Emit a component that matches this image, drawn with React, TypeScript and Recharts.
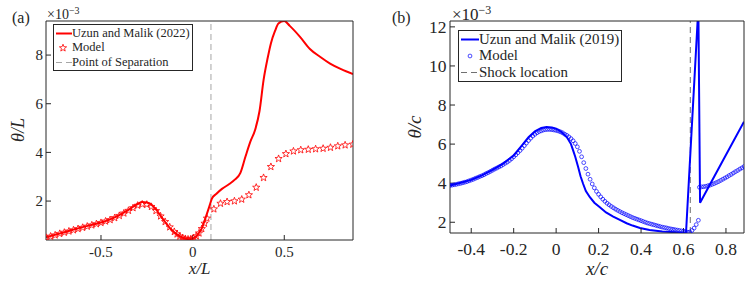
import React from "react";
import { ComposedChart, Line, Scatter, XAxis, YAxis, ReferenceLine } from "recharts";

// panel (a): theta/L (x 1e-3) vs x/L
const uzunAX = [-0.8, -0.7, -0.6, -0.5, -0.45, -0.4, -0.35, -0.3, -0.275, -0.25, -0.225, -0.2, -0.175, -0.15, -0.125, -0.1, -0.075, -0.05, -0.025, 0, 0.025, 0.05, 0.07, 0.09, 0.105, 0.13, 0.16, 0.2, 0.23, 0.26, 0.288, 0.315, 0.342, 0.365, 0.387, 0.41, 0.427, 0.45, 0.468, 0.5, 0.53, 0.586, 0.64, 0.695, 0.75, 0.81, 0.875];
const uzunAY = [0.51, 0.72, 0.93, 1.12, 1.25, 1.42, 1.64, 1.88, 1.96, 1.94, 1.85, 1.66, 1.4, 1.14, 0.9, 0.72, 0.58, 0.48, 0.43, 0.46, 0.6, 0.88, 1.3, 1.75, 2.1, 2.3, 2.5, 2.7, 2.88, 3.15, 3.82, 4.44, 4.95, 5.7, 6.97, 7.9, 8.48, 9.0, 9.3, 9.4, 9.2, 8.75, 8.25, 7.93, 7.65, 7.42, 7.22];

const modelAX = [-0.8, -0.775, -0.75, -0.725, -0.7, -0.675, -0.65, -0.625, -0.6, -0.575, -0.55, -0.525, -0.5, -0.475, -0.45, -0.425, -0.4, -0.375, -0.35, -0.325, -0.3, -0.275, -0.25, -0.225, -0.2, -0.175, -0.15, -0.125, -0.1, -0.085, -0.07, -0.055, -0.04, -0.025, -0.01, 0.005, 0.02, 0.035, 0.05, 0.065, 0.078, 0.116, 0.152, 0.188, 0.228, 0.268, 0.307, 0.347, 0.387, 0.427, 0.469, 0.509, 0.55, 0.59, 0.631, 0.671, 0.712, 0.752, 0.792, 0.832, 0.874];
const modelAY = [0.5, 0.55, 0.6, 0.66, 0.71, 0.76, 0.81, 0.86, 0.91, 0.96, 1.01, 1.06, 1.11, 1.17, 1.23, 1.31, 1.4, 1.5, 1.61, 1.72, 1.82, 1.87, 1.86, 1.77, 1.6, 1.38, 1.15, 0.93, 0.74, 0.64, 0.55, 0.49, 0.45, 0.43, 0.44, 0.48, 0.56, 0.68, 0.86, 1.08, 1.29, 1.67, 1.9, 1.97, 2.0, 2.07, 2.25, 2.56, 2.96, 3.41, 3.74, 3.94, 4.05, 4.1, 4.12, 4.14, 4.16, 4.2, 4.26, 4.3, 4.33];

// panel (b): theta/c (x 1e-3) vs x/c
const uzunBX = [-0.5, -0.45, -0.4, -0.35, -0.3, -0.25, -0.2, -0.16, -0.13, -0.1, -0.07, -0.045, -0.02, 0, 0.025, 0.05, 0.07, 0.08, 0.09, 0.104, 0.115, 0.127, 0.14, 0.159, 0.18, 0.206, 0.235, 0.269, 0.3, 0.332, 0.36, 0.395, 0.44, 0.5, 0.56, 0.612, 0.67, 0.678, 0.78, 0.885];
const uzunBY = [3.88, 4.02, 4.17, 4.4, 4.68, 5.0, 5.42, 5.95, 6.35, 6.65, 6.82, 6.87, 6.85, 6.79, 6.62, 6.36, 6.0, 5.68, 5.35, 4.82, 4.35, 3.97, 3.6, 3.28, 3.0, 2.77, 2.5, 2.29, 2.12, 1.95, 1.83, 1.71, 1.6, 1.53, 1.49, 1.48, 13.0, 3.0, 5.05, 7.15];

const modelBX = [
  -0.5, -0.49, -0.48, -0.47, -0.46, -0.45, -0.44, -0.43, -0.42, -0.41,
  -0.4, -0.39, -0.38, -0.37, -0.36, -0.35, -0.34, -0.33, -0.32, -0.31,
  -0.3, -0.29, -0.28, -0.27, -0.26, -0.25, -0.24, -0.23, -0.22, -0.21,
  -0.2, -0.19, -0.18, -0.17, -0.16, -0.15, -0.14, -0.13, -0.12, -0.11,
  -0.1, -0.09, -0.08, -0.07, -0.06, -0.05, -0.04, -0.03, -0.02, -0.01,
  0, 0.01, 0.02, 0.03, 0.04, 0.05, 0.06, 0.07, 0.08, 0.09,
  0.1, 0.11, 0.12, 0.13, 0.14, 0.15, 0.16, 0.17, 0.18, 0.19,
  0.2, 0.21, 0.22, 0.23, 0.24, 0.25, 0.26, 0.27, 0.28, 0.29,
  0.3, 0.31, 0.32, 0.33, 0.34, 0.35, 0.36, 0.37, 0.38, 0.39,
  0.4, 0.41, 0.42, 0.43, 0.44, 0.45, 0.46, 0.47, 0.48, 0.49,
  0.5, 0.51, 0.52, 0.53, 0.54, 0.55, 0.56, 0.57, 0.58, 0.59,
  0.6, 0.61, 0.62, 0.63, 0.64, 0.65, 0.66, 0.67,
  0.675, 0.685, 0.695, 0.705, 0.715, 0.725, 0.735, 0.745, 0.755, 0.765, 0.775,
  0.785, 0.795, 0.805, 0.815, 0.825, 0.835, 0.845, 0.855, 0.865, 0.875, 0.885,
];
const modelBY = [
  3.88, 3.9, 3.92, 3.94, 3.97, 3.99, 4.02, 4.05, 4.08, 4.12,
  4.16, 4.2, 4.25, 4.29, 4.34, 4.38, 4.43, 4.49, 4.54, 4.6,
  4.66, 4.72, 4.77, 4.83, 4.88, 4.95, 5.02, 5.08, 5.16, 5.25,
  5.35, 5.45, 5.56, 5.67, 5.79, 5.92, 6.05, 6.18, 6.3, 6.41,
  6.5, 6.58, 6.64, 6.68, 6.72, 6.74, 6.75, 6.75, 6.74, 6.72,
  6.7, 6.67, 6.63, 6.58, 6.51, 6.45, 6.37, 6.28, 6.17, 6.03,
  5.86, 5.63, 5.35, 5.05, 4.75, 4.46, 4.2, 3.96, 3.76, 3.58,
  3.43, 3.3, 3.18, 3.07, 2.97, 2.89, 2.81, 2.74, 2.67, 2.61,
  2.55, 2.49, 2.44, 2.39, 2.34, 2.29, 2.24, 2.2, 2.16, 2.12,
  2.08, 2.04, 2.0, 1.96, 1.93, 1.9, 1.87, 1.84, 1.81, 1.78,
  1.75, 1.73, 1.71, 1.68, 1.66, 1.64, 1.62, 1.6, 1.58, 1.56,
  1.54, 1.52, 1.49, 1.5, 1.58, 1.7, 1.88, 2.1,
  3.79, 3.81, 3.82, 3.84, 3.87, 3.9, 3.94, 3.98, 4.03, 4.08, 4.14,
  4.2, 4.26, 4.32, 4.39, 4.45, 4.52, 4.59, 4.65, 4.72, 4.78, 4.85,
];

const ticksAX = [-0.5, 0, 0.5];
const ticksAY = [2, 4, 6, 8];
const ticksBX = [-0.4, -0.2, 0, 0.2, 0.4, 0.6, 0.8];
const ticksBY = [2, 4, 6, 8, 10, 12];
const separationX = 0.1;
const shockX = 0.632;

const uzunA = uzunAX.map((x, i) => ({ x, y: uzunAY[i] }));
const modelA = modelAX.map((x, i) => ({ x, y: modelAY[i] }));
const uzunB = uzunBX.map((x, i) => ({ x, y: uzunBY[i] }));
const modelB = modelBX.map((x, i) => ({ x, y: modelBY[i] }));

const AXIS = "#262626";
const FONT = "Liberation Serif, Tinos, Times New Roman, Times, DejaVu Serif, serif";

function StarDot(props: any) {
  const { cx, cy } = props;
  if (cx == null || cy == null) return null;
  const pts: string[] = [];
  for (let i = 0; i < 10; i++) {
    const r = i % 2 === 0 ? 3.8 : 1.6;
    const a = -Math.PI / 2 + (i * Math.PI) / 5;
    pts.push(`${cx + r * Math.cos(a)},${cy + r * Math.sin(a)}`);
  }
  return <polygon points={pts.join(" ")} fill="none" stroke="#ff0000" strokeWidth={0.8} />;
}

function CircleDot(props: any) {
  const { cx, cy } = props;
  if (cx == null || cy == null) return null;
  return <circle cx={cx} cy={cy} r={1.9} fill="none" stroke="#0000ff" strokeWidth={0.7} />;
}

const fmt = (v: number) => String(v);

export default function App() {
  const tickA = { fill: AXIS, fontSize: 15, fontFamily: FONT };
  const tickB = { fill: AXIS, fontSize: 17.5, fontFamily: FONT };
  const axisLine = { stroke: AXIS, strokeWidth: 1 };

  return (
    <div style={{ position: "absolute", left: 0, top: 0, width: 747, height: 281, background: "#fff", fontFamily: FONT, color: AXIS, overflow: "hidden" }}>
      {/* panel (a) */}
      <div style={{ position: "absolute", left: 0, top: 0 }}>
        <ComposedChart width={370} height={281} margin={{ top: 20, right: 16, bottom: 0, left: 0 }}>
          <XAxis dataKey="x" type="number" domain={[-0.8, 0.875]} ticks={ticksAX} allowDataOverflow
            height={41} tickSize={-5} tickMargin={11} tick={tickA} tickFormatter={fmt} axisLine={axisLine} tickLine={axisLine} />
          <XAxis xAxisId="top" orientation="top" type="number" domain={[-0.8, 0.875]} ticks={ticksAX} allowDataOverflow
            height={1} tickSize={-5} tick={false} axisLine={axisLine} tickLine={axisLine} />
          <YAxis dataKey="y" type="number" domain={[0.4, 9.4]} ticks={ticksAY} allowDataOverflow
            width={46} tickSize={-5} tickMargin={8} tick={tickA} axisLine={axisLine} tickLine={axisLine} />
          <YAxis yAxisId="right" orientation="right" type="number" domain={[0.4, 9.4]} ticks={ticksAY} allowDataOverflow
            width={1} tickSize={-5} tick={false} axisLine={axisLine} tickLine={axisLine} />
          <ReferenceLine x={separationX} stroke="#a6a6a6" strokeDasharray="6 4" strokeWidth={1} />
          <Scatter data={modelA} dataKey="y" shape={StarDot} isAnimationActive={false} />
          <Line data={uzunA} dataKey="y" type="monotone" stroke="#ff0000" strokeWidth={2} dot={false} isAnimationActive={false} />
        </ComposedChart>
      </div>

      {/* panel (b) */}
      <div style={{ position: "absolute", left: 375, top: 0 }}>
        <ComposedChart width={372} height={281} margin={{ top: 20, right: 2, bottom: 0, left: 0 }}>
          <XAxis dataKey="x" type="number" domain={[-0.5, 0.885]} ticks={ticksBX} allowDataOverflow
            height={48} tickSize={-5} tickMargin={15} tick={tickB} tickFormatter={fmt} axisLine={axisLine} tickLine={axisLine} />
          <XAxis xAxisId="top" orientation="top" type="number" domain={[-0.5, 0.885]} ticks={ticksBX} allowDataOverflow
            height={1} tickSize={-5} tick={false} axisLine={axisLine} tickLine={axisLine} />
          <YAxis dataKey="y" type="number" domain={[1.45, 12.3]} ticks={ticksBY} allowDataOverflow
            width={75} tickSize={-5} tickMargin={8.5} tick={tickB} axisLine={axisLine} tickLine={axisLine} />
          <YAxis yAxisId="right" orientation="right" type="number" domain={[1.45, 12.3]} ticks={ticksBY} allowDataOverflow
            width={1} tickSize={-5} tick={false} axisLine={axisLine} tickLine={axisLine} />
          <ReferenceLine x={shockX} stroke="#707070" strokeDasharray="6 4" strokeWidth={1} />
          <Scatter data={modelB} dataKey="y" shape={CircleDot} isAnimationActive={false} />
          <Line data={uzunB} dataKey="y" type="linear" stroke="#0000ff" strokeWidth={2} dot={false} isAnimationActive={false} />
        </ComposedChart>
      </div>

      {/* panel labels and exponents */}
      <div style={{ position: "absolute", left: 12, top: 10, fontSize: 16, lineHeight: "16px" }}>(a)</div>
      <div style={{ position: "absolute", left: 392, top: 10, fontSize: 16, lineHeight: "16px" }}>(b)</div>
      <div style={{ position: "absolute", left: 47, top: 4, fontSize: 14, lineHeight: "14px", whiteSpace: "nowrap" }}>
        ×10<sup style={{ fontSize: 10, verticalAlign: "5px" }}>−3</sup>
      </div>
      <div style={{ position: "absolute", left: 452, top: 2, fontSize: 17, lineHeight: "17px", whiteSpace: "nowrap" }}>
        ×10<sup style={{ fontSize: 12, verticalAlign: "6px" }}>−3</sup>
      </div>

      {/* axis titles */}
      <div style={{ position: "absolute", left: 199.5, top: 260, transform: "translateX(-50%)", fontSize: 17, lineHeight: "18.8px", fontStyle: "italic", whiteSpace: "nowrap" }}>x/L</div>
      <div style={{ position: "absolute", left: 597, top: 262, transform: "translateX(-50%)", fontSize: 19, lineHeight: "14px", fontStyle: "italic", whiteSpace: "nowrap" }}>x/c</div>
      <div style={{ position: "absolute", left: 18, top: 130, transform: "translate(-50%, -50%) rotate(-90deg)", fontSize: 18, lineHeight: "18px", fontStyle: "italic", whiteSpace: "nowrap" }}>θ/L</div>
      <div style={{ position: "absolute", left: 414, top: 127, transform: "translate(-50%, -50%) rotate(-90deg)", fontSize: 19, lineHeight: "19px", fontStyle: "italic", whiteSpace: "nowrap" }}>θ/c</div>

      {/* legend (a) */}
      <div style={{ position: "absolute", left: 53, top: 24, width: 140, height: 47, border: `1px solid ${AXIS}`, background: "#fff", boxSizing: "border-box", fontSize: 12.5, lineHeight: "12.5px" }}>
        <svg width={20} height={47} style={{ position: "absolute", left: 0, top: -1 }}>
          <line x1={2} x2={18} y1={9.5} y2={9.5} stroke="#ff0000" strokeWidth={2} />
          <StarDot cx={9} cy={24} />
          <line x1={2} x2={18} y1={38.5} y2={38.5} stroke="#a6a6a6" strokeWidth={1} strokeDasharray="6 4" />
        </svg>
        <div style={{ position: "absolute", left: 18, top: 1.5, whiteSpace: "nowrap" }}>Uzun and Malik (2022)</div>
        <div style={{ position: "absolute", left: 18, top: 16, whiteSpace: "nowrap" }}>Model</div>
        <div style={{ position: "absolute", left: 18, top: 30.5, whiteSpace: "nowrap" }}>Point of Separation</div>
      </div>

      {/* legend (b) */}
      <div style={{ position: "absolute", left: 458, top: 30, width: 164, height: 52, border: `1px solid ${AXIS}`, background: "#fff", boxSizing: "border-box", fontSize: 14.9, lineHeight: "14.9px" }}>
        <svg width={22} height={52} style={{ position: "absolute", left: 0, top: -1 }}>
          <line x1={2} x2={20} y1={9.5} y2={9.5} stroke="#0000ff" strokeWidth={2} />
          <CircleDot cx={11} cy={26} />
          <line x1={2} x2={20} y1={42.5} y2={42.5} stroke="#707070" strokeWidth={1} strokeDasharray="6 4" />
        </svg>
        <div style={{ position: "absolute", left: 20, top: 0.5, whiteSpace: "nowrap" }}>Uzun and Malik (2019)</div>
        <div style={{ position: "absolute", left: 20, top: 17, whiteSpace: "nowrap" }}>Model</div>
        <div style={{ position: "absolute", left: 20, top: 33.5, whiteSpace: "nowrap" }}>Shock location</div>
      </div>
    </div>
  );
}
